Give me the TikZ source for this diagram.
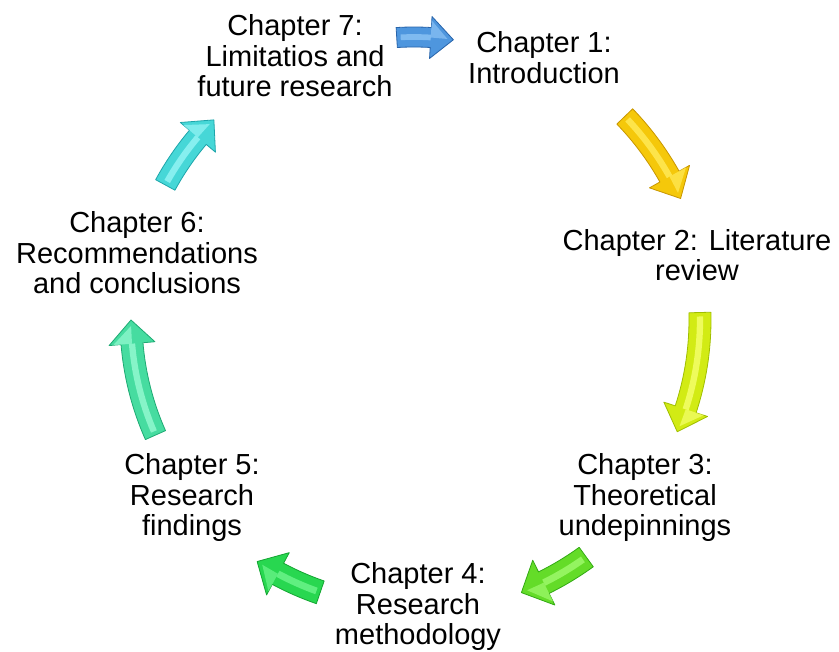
\documentclass[tikz,border=0pt]{standalone}
\usepackage{fontspec}
\setmainfont{Liberation Sans}
\begin{document}
\begin{tikzpicture}[x=1pt,y=1pt,
  lbl/.style={align=center,inner sep=0pt,font=\fontsize{29}{30.5}\selectfont}]
\useasboundingbox (0,0) rectangle (839,652);
\definecolor{cA}{RGB}{78,150,222}\definecolor{dA}{RGB}{40,100,170}\definecolor{lA}{RGB}{140,195,245}
\definecolor{cB}{RGB}{245,200,10}\definecolor{dB}{RGB}{200,150,0}\definecolor{lB}{RGB}{255,235,90}
\definecolor{cC}{RGB}{210,235,20}\definecolor{dC}{RGB}{160,190,0}\definecolor{lC}{RGB}{245,255,110}
\definecolor{cD}{RGB}{100,220,40}\definecolor{dD}{RGB}{50,170,20}\definecolor{lD}{RGB}{160,250,110}
\definecolor{cE}{RGB}{40,215,80}\definecolor{dE}{RGB}{20,165,50}\definecolor{lE}{RGB}{110,245,140}
\definecolor{cF}{RGB}{70,220,160}\definecolor{dF}{RGB}{30,170,115}\definecolor{lF}{RGB}{150,250,210}
\definecolor{cG}{RGB}{70,215,215}\definecolor{dG}{RGB}{30,165,170}\definecolor{lG}{RGB}{150,245,245}
% #1 fill, #2 edge, #3 light, #4 a1, #5 a2, #6 R, #7 w, #8 head width, #9 head length (deg)
\newcommand{\cycarrow}[9]{%
  \pgfmathsetmacro{\ah}{#5+#9}%
  \pgfmathsetmacro{\ro}{#6+#7/2}\pgfmathsetmacro{\ri}{#6-#7/2}%
  \pgfmathsetmacro{\hho}{#6+#8/2}\pgfmathsetmacro{\hhi}{#6-#8/2}%
  \filldraw[fill=#1,draw=#2,line width=0.8pt,line join=round]
    (#4:\ro) arc[start angle=#4,end angle=\ah,radius=\ro]
    -- (\ah:\hho) -- (#5:#6) -- (\ah:\hhi) -- (\ah:\ri)
    arc[start angle=\ah,end angle=#4,radius=\ri] -- cycle;
  \draw[#3,line width=#7/3.5,line cap=butt,opacity=0.8]
    (#4-0.8:#6) arc[start angle=#4-0.8,end angle=\ah,radius=#6];
  \fill[#3,opacity=0.7] (\ah:#6) -- (#5+1.2:#6) -- (\ah:#6+#8/2-4) -- cycle;
}
\begin{scope}[shift={(414,332)}]
\cycarrow{cA}{dA}{lA}{93.5}{82}{283}{20}{42}{4.6}
\cycarrow{cB}{dB}{lB}{44}{24.5}{293}{22}{46}{4.8}
\cycarrow{cC}{dC}{lC}{1.5}{-23}{286}{22}{46}{4.8}
\cycarrow{cD}{dD}{lD}{-54}{-68.5}{293}{24}{50}{4.8}
\cycarrow{cE}{dE}{lE}{-109}{-123}{288}{24}{48}{4.8}
\cycarrow{cF}{dF}{lF}{-156}{-180}{283}{22}{46}{4.8}
\cycarrow{cG}{dG}{lG}{151.5}{135}{283}{22}{46}{4.8}
\end{scope}
\node[lbl] (t7) at (295,596) {Chapter 7:\\Limitatios and\\future research};
\node[lbl] (t1) at (544,594.5) {Chapter 1:\\Introduction};
\node[lbl] (t2) at (697,397) {Chapter 2: Literature\\review};
\node[lbl] (t3) at (645,154) {Chapter 3:\\Theoretical\\undepinnings};
\node[lbl] (t4) at (418,45) {Chapter 4:\\Research\\methodology};
\node[lbl] (t5) at (192,154) {Chapter 5:\\Research\\findings};
\node[lbl] (t6) at (137,399) {Chapter 6:\\Recommendations\\and conclusions};
\end{tikzpicture}
\end{document}
